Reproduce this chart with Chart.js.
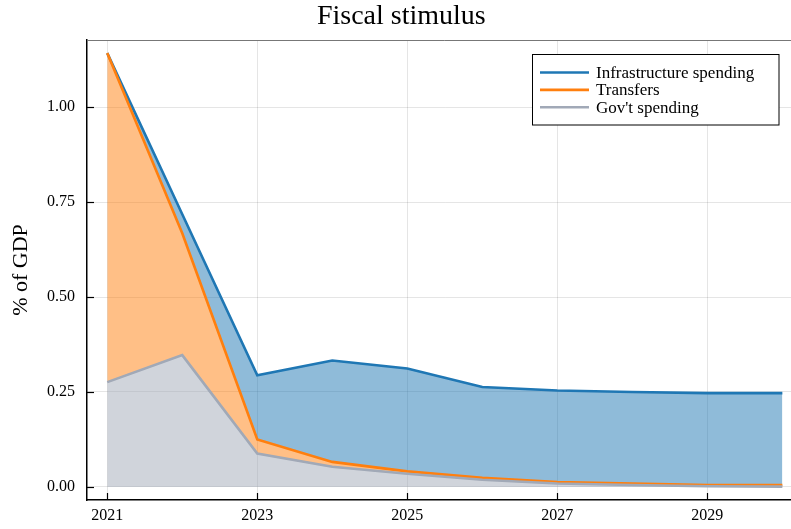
<!DOCTYPE html>
<html>
<head>
<meta charset="utf-8">
<script src="https://cdn.jsdelivr.net/npm/chart.js@4/dist/chart.umd.min.js"></script>
<style>
  html, body { margin: 0; padding: 0; overflow: hidden; background: #fff; }
</style>
</head>
<body>
<canvas id="myChart" width="810" height="529"></canvas>
<script>
// years on the x axis
var years = [2021, 2022, 2023, 2024, 2025, 2026, 2027, 2028, 2029, 2030];
// each series as % of GDP (stacked: gov't at the bottom, then transfers, then infrastructure)
var govSpending = [0.276, 0.347, 0.088, 0.053, 0.035, 0.019, 0.009, 0.005, 0.002, 0.001];
var transfers = [0.866, 0.321, 0.037, 0.013, 0.006, 0.005, 0.004, 0.004, 0.003, 0.004];
var infrastructure = [0.000, 0.050, 0.169, 0.267, 0.271, 0.239, 0.241, 0.241, 0.242, 0.242];
// tick labels
var xTicks = [2021, 2023, 2025, 2027, 2029];
var yTicks = [0, 0.25, 0.5, 0.75, 1.0];

var serif = "'Liberation Serif', 'Times New Roman', serif";

function points(vals) {
	return years.map(function(yr, i){ return {x: yr, y: vals[i]}; });
}

/** Inward tick marks, top frame line and the boxed legend */
var frameAndLegend = {
	id: 'frameAndLegend',
	afterDraw: function(chart) {
		var ctx = chart.ctx;
		var area = chart.chartArea;
		var xs = chart.scales.x, ys = chart.scales.y;
		ctx.save();
		ctx.strokeStyle = '#000';
		ctx.lineWidth = 1.2;
		xTicks.forEach(function(t){
			var px = Math.round(xs.getPixelForValue(t)) + 0.5;
			ctx.beginPath();
			ctx.moveTo(px, area.bottom);
			ctx.lineTo(px, area.bottom - 7);
			ctx.stroke();
		});
		yTicks.forEach(function(t){
			var py = Math.round(ys.getPixelForValue(t)) + 0.5;
			ctx.beginPath();
			ctx.moveTo(area.left, py);
			ctx.lineTo(area.left + 7, py);
			ctx.stroke();
		});
		// top frame
		ctx.strokeStyle = '#777';
		ctx.lineWidth = 1;
		ctx.beginPath();
		ctx.moveTo(area.left, Math.round(area.top) + 0.5);
		ctx.lineTo(area.right, Math.round(area.top) + 0.5);
		ctx.stroke();

		// legend
		var bx = 532.5, by = 54.5, bw = 246.5, bh = 70.5;
		ctx.fillStyle = '#fff';
		ctx.fillRect(bx, by, bw, bh);
		ctx.strokeStyle = '#000';
		ctx.lineWidth = 1;
		ctx.strokeRect(bx, by, bw, bh);
		var items = chart.data.datasets.slice().reverse();
		ctx.font = "17px " + serif;
		ctx.textBaseline = 'middle';
		items.forEach(function(ds, i){
			var yy = 72.5 + i * 17.4;
			ctx.strokeStyle = ds.borderColor;
			ctx.lineWidth = 2.6;
			ctx.beginPath();
			ctx.moveTo(540, yy);
			ctx.lineTo(589, yy);
			ctx.stroke();
			ctx.fillStyle = '#000';
			ctx.fillText(ds.label, 596, yy + 1);
		});
		ctx.restore();
	}
};

var ctx = document.getElementById("myChart").getContext('2d');
var myChart = new Chart(ctx, {
	type: 'line',
	data: {
		datasets: [{
			label: "Gov't spending",
			data: points(govSpending),
			borderColor: 'rgb(161, 169, 183)',
			backgroundColor: 'rgba(161, 169, 183, 0.5)',
			fill: 'origin'
		}, {
			label: 'Transfers',
			data: points(transfers),
			borderColor: 'rgb(255, 127, 14)',
			backgroundColor: 'rgba(255, 127, 14, 0.5)',
			fill: '-1'
		}, {
			label: 'Infrastructure spending',
			data: points(infrastructure),
			borderColor: 'rgb(31, 119, 180)',
			backgroundColor: 'rgba(31, 119, 180, 0.5)',
			fill: '-1'
		}]
	},
	options: {
		responsive: false,
		animation: false,
		devicePixelRatio: 1,
		elements: {
			line: { borderWidth: 2.6, tension: 0 },
			point: { radius: 0, hoverRadius: 0 }
		},
		layout: { padding: { left: 0, right: 7.4, top: 0, bottom: 0 } },
		plugins: {
			legend: { display: false },
			tooltip: { enabled: false },
			title: {
				display: true,
				text: 'Fiscal stimulus',
				color: '#000',
				font: { family: serif, size: 28, weight: 'normal' },
				padding: { top: 0, bottom: 6.4 }
			}
		},
		scales: {
			x: {
				type: 'linear',
				min: 2020.73,
				max: 2030.27,
				afterBuildTicks: function(axis){
					axis.ticks = xTicks.map(function(v){ return {value: v}; });
				},
				afterFit: function(axis){ axis.height = 29; },
				ticks: {
					color: '#000',
					font: { family: serif, size: 16 },
					padding: 6,
					maxRotation: 0,
					callback: function(v){ return String(v); }
				},
				grid: { color: 'rgba(0,0,0,0.1)', drawTicks: false },
				border: { color: '#000', width: 1.5 }
			},
			y: {
				stacked: true,
				min: -0.0343,
				max: 1.1765,
				afterBuildTicks: function(axis){
					axis.ticks = yTicks.map(function(v){ return {value: v}; });
				},
				afterFit: function(axis){ axis.width = 87; },
				ticks: {
					color: '#000',
					font: { family: serif, size: 16 },
					padding: 12,
					callback: function(v){ return v.toFixed(2); }
				},
				grid: { color: 'rgba(0,0,0,0.1)', drawTicks: false },
				border: { color: '#000', width: 1.5 },
				title: {
					display: true,
					text: '% of GDP',
					color: '#000',
					font: { family: serif, size: 22 },
					padding: { top: 8, bottom: 0 }
				}
			}
		}
	},
	plugins: [frameAndLegend]
});
</script>
</body>
</html>
